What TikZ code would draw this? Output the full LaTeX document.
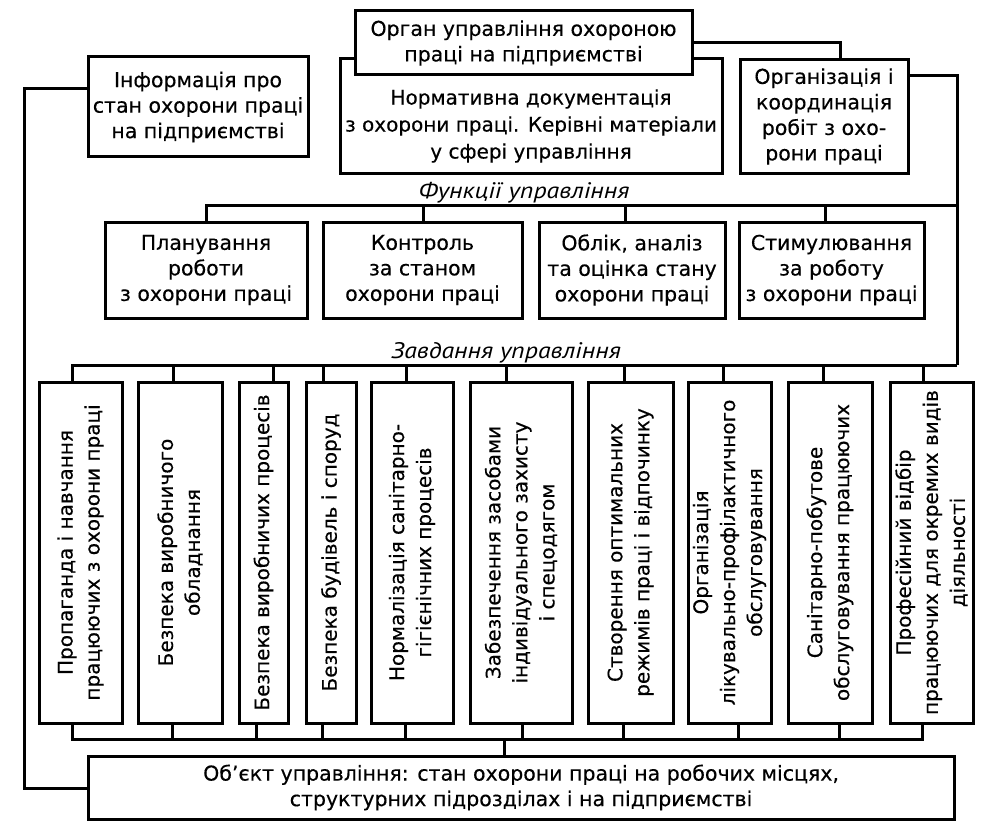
\documentclass[tikz,border=0pt]{standalone}
\usepackage{fontspec}
\setmainfont{DejaVu Sans}[UprightFeatures={FakeBold=0.3}]
\newfontfamily\itf{PT Sans}[FakeStretch=1.15]
\begin{document}
\begin{tikzpicture}[x=1pt,y=-1pt,
  box/.style={draw, line width=3pt, fill=white, inner sep=0pt, align=center, font=\fontsize{20.5}{25.5}\selectfont},
  txt/.style={inner sep=0pt, align=center, font=\fontsize{20}{27}\selectfont},
  lbl/.style={inner sep=0pt, anchor=base, font=\fontsize{22.5}{26}\selectfont\itf\itshape},
  ln/.style={line width=3pt}]
\useasboundingbox (0,0) rectangle (981,821);

% top group
\node[box, minimum width=382, minimum height=114] (norm) at (531,116) {};
\node[txt] (normt) at (531,126) {Нормативна документація\\з охорони праці. Керівні матеріали\\у сфері управління};
\node[box, minimum width=337, minimum height=64] (top) at (523.5,43) {Орган управління охороною\\праці на підприємстві};
\node[box, minimum width=220, minimum height=100] (info) at (198,107) {Інформація про\\стан охорони праці\\на підприємстві};
\node[box, minimum width=168, minimum height=113] (org) at (824,116.5) {Організація і\\координація\\робіт з охо-\\рони праці};

% labels
\node[lbl] (flab) at (524,198) {Функції управління};
\node[lbl] (zlab) at (506,358) {Завдання управління};

% functions
\node[box, minimum width=202, minimum height=96] (f1) at (206,270) {Планування\\роботи\\з охорони праці};
\node[box, minimum width=199, minimum height=96] (f2) at (422.5,270) {Контроль\\за станом\\охорони праці};
\node[box, minimum width=186, minimum height=96] (f3) at (632,270) {Облік, аналіз\\та оцінка стану\\охорони праці};
\node[box, minimum width=185, minimum height=96] (f4) at (831.5,270) {Стимулювання\\за роботу\\з охорони праці};

% tasks
\node[box, minimum width=83, minimum height=341] (t1) at (80.5,552.5) {};
\node[box, minimum width=84, minimum height=341] (t2) at (180,552.5) {};
\node[box, minimum width=49, minimum height=341] (t3) at (263.5,552.5) {};
\node[box, minimum width=50, minimum height=341] (t4) at (331,552.5) {};
\node[box, minimum width=82, minimum height=341] (t5) at (412,552.5) {};
\node[box, minimum width=102, minimum height=341] (t6) at (521,552.5) {};
\node[box, minimum width=85, minimum height=341] (t7) at (630.5,552.5) {};
\node[box, minimum width=83, minimum height=341] (t8) at (729.5,552.5) {};
\node[box, minimum width=84, minimum height=341] (t9) at (830,552.5) {};
\node[box, minimum width=83, minimum height=341] (t10) at (931.5,552.5) {};

\node[txt, rotate=90] (t1t) at (t1) {Пропаганда і навчання\\працюючих з охорони праці};
\node[txt, rotate=90] (t2t) at (t2) {Безпека виробничого\\обладнання};
\node[txt, rotate=90] (t3t) at (t3) {Безпека виробничих процесів};
\node[txt, rotate=90] (t4t) at (t4) {Безпека будівель і споруд};
\node[txt, rotate=90] (t5t) at (t5) {Нормалізація санітарно-\\гігієнічних процесів};
\node[txt, rotate=90] (t6t) at (t6) {Забезпечення засобами\\індивідуального захисту\\і спецодягом};
\node[txt, rotate=90] (t7t) at (t7) {Створення оптимальних\\режимів праці і відпочинку};
\node[txt, rotate=90] (t8t) at (t8) {Організація\\лікувально-профілактичного\\обслуговування};
\node[txt, rotate=90] (t9t) at (t9) {Санітарно-побутове\\обслуговування працюючих};
\node[txt, rotate=90] (t10t) at (t10) {Професійний відбір\\працюючих для окремих видів\\діяльності};

% object
\node[box, minimum width=866, minimum height=63] (obj) at (521,787.5) {Об’єкт управління: стан охорони праці на робочих місцях,\\структурних підрозділах і на підприємстві};

% connectors
\coordinate (jo) at (840,60);
\draw[ln] (top.east) -| (jo);
\coordinate (rt) at (957,76);
\coordinate (rf) at (957,205);
\coordinate (rb) at (957,365);
\draw[ln] (org.east |- rt) -- (rt) -- (rb);
\coordinate (fl) at (207,205);
\draw[ln] (fl) -- (rf);
\coordinate (tl) at (72,365);
\draw[ln] (tl) -- (rb);
\foreach \n/\a in {f1/0.5, f2/0.5, f3/-7, f4/-6.5}
  {\draw[ln] ([xshift=\a pt]\n.north) -- ++(0,-17);}
\foreach \n/\a/\b in {t1/-8.5/-8.5, t2/-7/-8, t3/9.5/-7.5, t4/-8/-9, t5/-6/-7, t6/-15/1, t7/-6.5/-7.5, t8/-6.5/8.5, t9/-7/9, t10/-8.5/-9.5}
  {\draw[ln] ([xshift=\a pt]\n.north) -- ++(0,-17);
   \draw[ln] ([xshift=\b pt]\n.south) -- ++(0,16);}
\coordinate (bl) at (72,739);
\coordinate (br) at (922,739);
\draw[ln] (bl) -- (br);
\coordinate (bc) at (504,739);
\draw[ln] (bc) -- (bc |- obj.north);
\coordinate (lu) at (24,89);
\coordinate (ld) at (24,788);
\draw[ln] (info.west |- lu) -- (lu) -- (ld) -- (obj.west |- ld);
\end{tikzpicture}
\end{document}
